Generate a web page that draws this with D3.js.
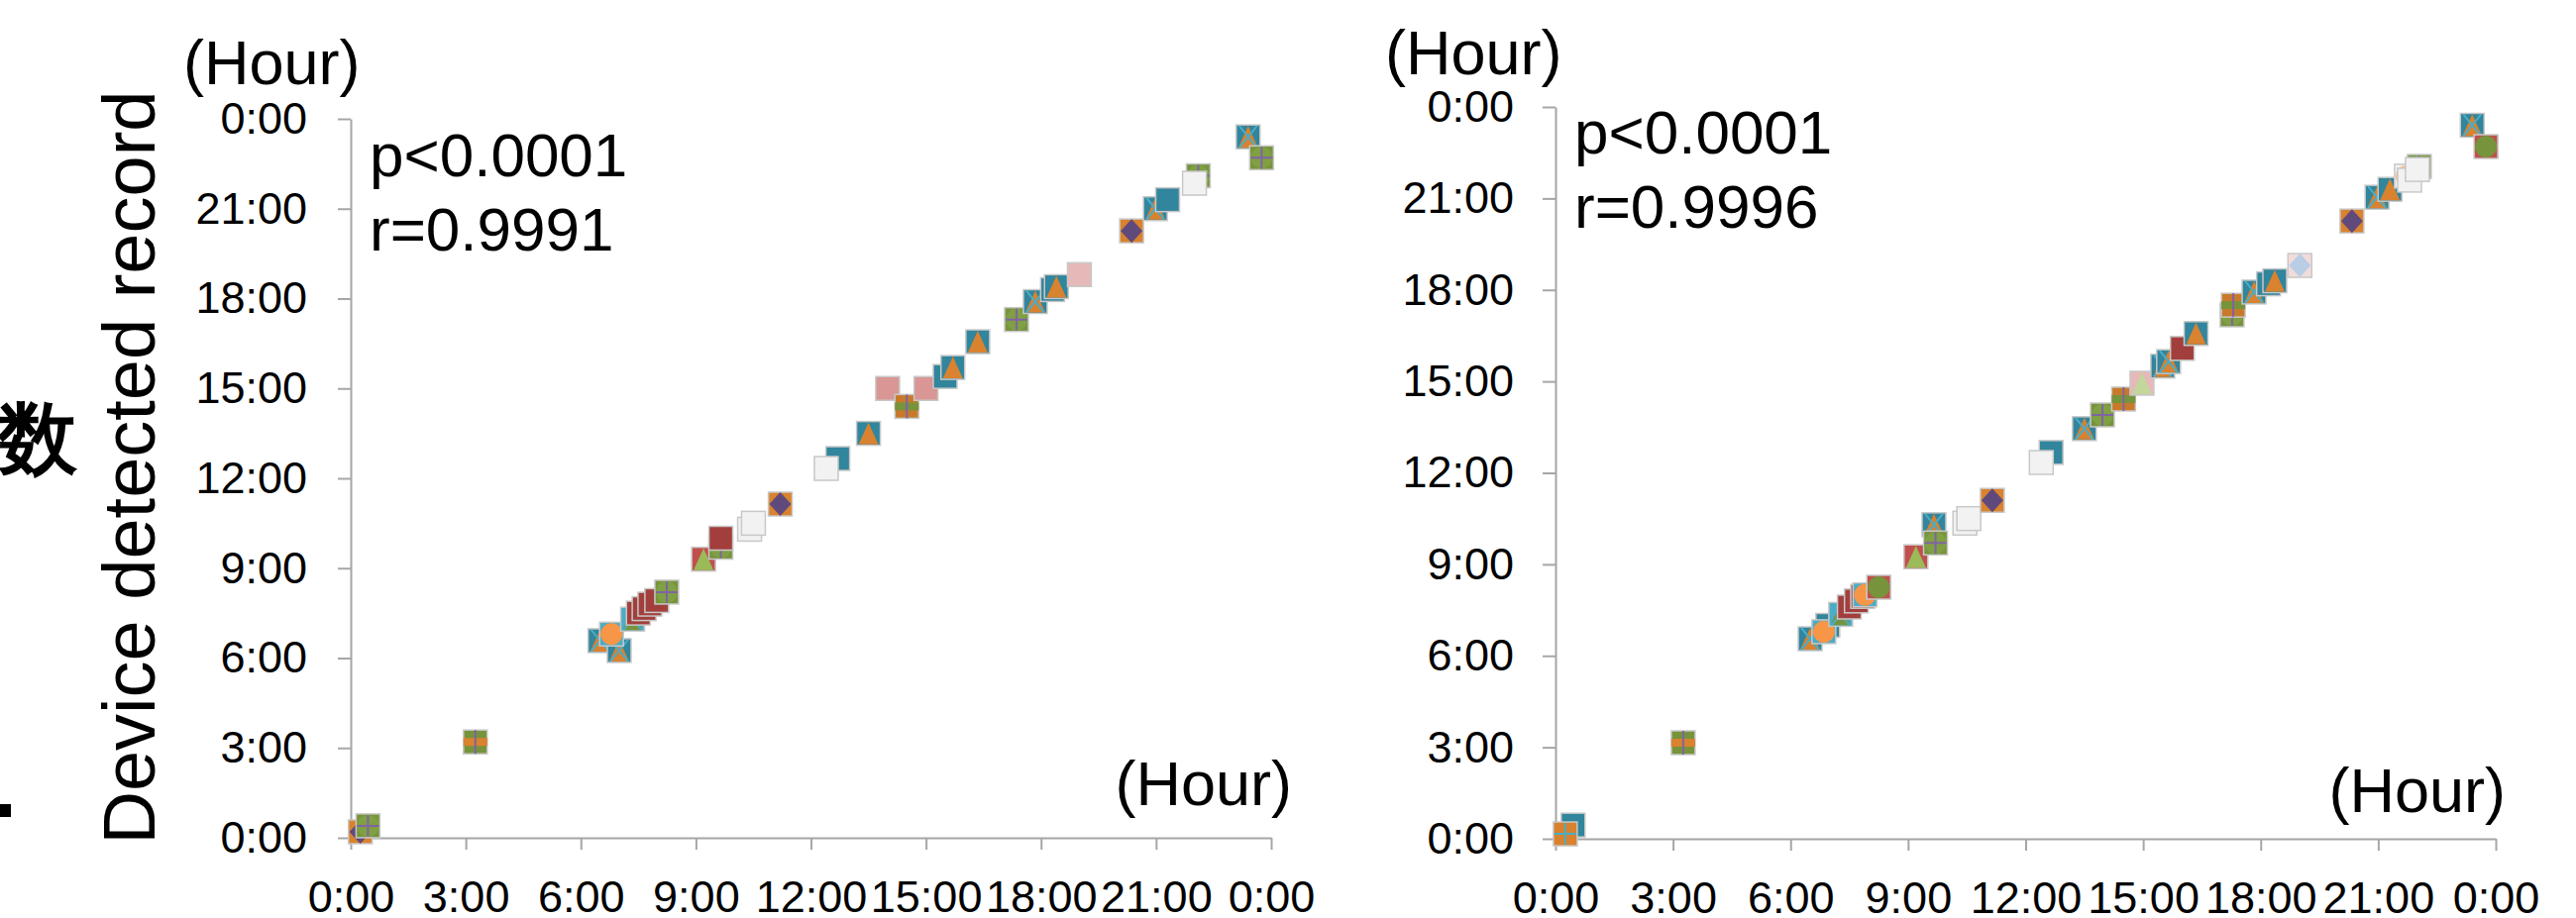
<!DOCTYPE html>
<html>
<head>
<meta charset="utf-8">
<script src="https://cdn.jsdelivr.net/npm/d3@7"></script>
<style>
  body { margin: 0; background: #fff; }
  text { font-family: "Liberation Sans", Arial, sans-serif; fill: #000; }
</style>
</head>
<body>
<svg id="chart" width="2600" height="927"></svg>
<script>
// tick values are hours, labels wrap around midnight
var hourTicks = [0, 3, 6, 9, 12, 15, 18, 21, 24];
var tickLabels = ["0:00", "3:00", "6:00", "9:00", "12:00", "15:00", "18:00", "21:00", "0:00"];

// left panel (x = reference hour, y = device detected record hour)
var leftX = [0.25, 0.45, 3.25, 6.5, 7.0, 6.8, 7.35, 7.5, 7.65, 7.8, 7.98, 8.24, 9.2, 9.65, 9.65,
  10.4, 10.5, 11.2, 12.7, 12.4, 13.5, 14.0, 14.5, 15.0, 15.5, 15.7, 16.35, 17.36, 17.85, 18.3,
  18.4, 19.0, 20.36, 20.98, 21.3, 22.1, 22.0, 23.4, 23.75];
var leftY = [0.2, 0.4, 3.2, 6.58, 6.25, 6.8, 7.3, 7.5, 7.65, 7.8, 7.92, 8.2, 9.3, 9.7, 10.0,
  10.3, 10.5, 11.14, 12.66, 12.33, 13.5, 15.0, 14.4, 15.0, 15.4, 15.7, 16.56, 17.3, 17.9, 18.3,
  18.4, 18.8, 20.26, 21.0, 21.3, 22.1, 21.85, 23.4, 22.7];
var leftKind = ["purpleDiamond", "greenPlus", "bandGreen", "tealX", "tealX", "orangeCircle", "greenX",
  "red", "red", "red", "red", "greenPlus", "redTri", "greenPlus", "red",
  "white", "white", "purpleDiamond", "teal", "white", "tealTri", "pink", "bandOrange", "pink",
  "teal", "tealTri", "tealTri", "greenPlus", "tealX", "teal",
  "tealTri", "lightPink", "purpleDiamond", "tealX", "teal", "greenPlus", "white", "tealX", "greenPlus"];
var leftStats = ["p<0.0001", "r=0.9991"];

// right panel
var rightX = [0.45, 0.25, 3.26, 6.5, 6.95, 6.85, 7.28, 7.5, 7.68, 7.84, 7.9, 8.25, 9.2, 9.66, 9.7,
  10.45, 10.55, 11.15, 12.65, 12.4, 13.5, 13.96, 14.5, 14.97, 15.5, 15.65, 16.0, 16.35, 17.27,
  17.3, 17.83, 18.2, 18.36, 19.0, 20.33, 20.97, 21.3, 21.72, 21.8, 22.05, 22.0, 23.4, 23.75];
var rightY = [0.45, 0.16, 3.15, 6.56, 7.0, 6.79, 7.36, 7.6, 7.8, 7.95, 8.0, 8.25, 9.25, 10.3, 9.7,
  10.35, 10.5, 11.1, 12.67, 12.34, 13.45, 13.9, 14.42, 14.94, 15.5, 15.65, 16.08, 16.57, 17.18,
  17.5, 17.93, 18.2, 18.3, 18.8, 20.26, 21.04, 21.3, 21.73, 21.6, 22.05, 21.95, 23.4, 22.7];
var rightKind = ["teal", "orangePlus", "bandGreen", "tealX", "teal", "orangeCircle", "greenX",
  "red", "red", "red", "orangeCircle", "greenCircle", "redTri", "tealX", "greenPlus",
  "white", "white", "purpleDiamond", "teal", "white", "tealX", "greenPlus", "bandOrange", "pinkTri",
  "tealX", "tealX", "red", "tealTri", "greenPlus",
  "bandOrange", "tealX", "teal", "tealTri", "blueDiamond", "purpleDiamond", "tealX", "tealTri",
  "peachCircle", "white", "greenPlus", "white", "tealX", "greenCircle"];
var rightStats = ["p<0.0001", "r=0.9996"];

var looks = {
  teal:          { bg: "#31859C" },
  tealTri:       { bg: "#31859C", fg: "#D9822F", shape: "tri" },
  tealX:         { bg: "#31859C", fg: "#D9822F", shape: "trix" },
  greenX:        { bg: "#4BACC6", fg: "#77933C", shape: "trix" },
  greenPlus:     { bg: "#77933C", fg: "#7FA043", shape: "plus" },
  greenCircle:   { bg: "#C0504D", fg: "#77933C", shape: "circle" },
  bandGreen:     { bg: "#77933C", fg: "#D9822F", shape: "band" },
  bandOrange:    { bg: "#C87A2A", fg: "#77933C", shape: "band" },
  red:           { bg: "#A23F3C" },
  redTri:        { bg: "#C0504D", fg: "#9BBB59", shape: "tri" },
  pink:          { bg: "#D99694" },
  pinkTri:       { bg: "#E6B9B8", fg: "#C3D69B", shape: "tri" },
  lightPink:     { bg: "#E6B9B8" },
  white:         { bg: "#F2F2F2" },
  purpleDiamond: { bg: "#D9822F", fg: "#604A7B", shape: "diamond" },
  blueDiamond:   { bg: "#F2DCDB", fg: "#B9CDE5", shape: "diamond" },
  orangeCircle:  { bg: "#4BACC6", fg: "#F79646", shape: "circle" },
  orangePlus:    { bg: "#D9822F", fg: "#D9822F", shape: "plus" },
  peachCircle:   { bg: "#F2F2F2", fg: "#FAC090", shape: "circle" }
};

var svg = d3.select("#chart");
var ms = 12; // half marker size

function drawMarker(g, kind) {
  var lk = looks[kind];
  g.append("rect").attr("x", -ms).attr("y", -ms).attr("width", 2 * ms).attr("height", 2 * ms)
    .attr("fill", lk.bg).attr("stroke", "#c8c8c8").attr("stroke-width", 1.5);
  if (lk.shape == "tri" || lk.shape == "trix") {
    g.append("path").attr("d", "M0," + (-ms + 1) + "L" + (-ms + 2) + "," + (ms - 1) + "L" + (ms - 2) + "," + (ms - 1) + "Z")
      .attr("fill", lk.fg);
  }
  if (lk.shape == "trix") {
    g.append("path").attr("d", "M-9,-11L9,11M9,-11L-9,11").attr("stroke", "#4BACC6").attr("stroke-width", 2);
  }
  if (lk.shape == "plus") {
    g.append("circle").attr("r", ms - 1).attr("fill", lk.fg);
    g.append("path").attr("d", "M0,-11V11M-11,0H11").attr("stroke", kind == "orangePlus" ? "#4BACC6" : "#8064A2").attr("stroke-width", 2);
  }
  if (lk.shape == "circle") {
    g.append("circle").attr("r", ms - 1).attr("fill", lk.fg);
  }
  if (lk.shape == "band") {
    g.append("rect").attr("x", -ms).attr("y", -4).attr("width", 2 * ms).attr("height", 8).attr("fill", lk.fg);
    g.append("path").attr("d", "M0,-12V12").attr("stroke", "#8064A2").attr("stroke-width", 2);
  }
  if (lk.shape == "diamond") {
    g.append("path").attr("d", "M0,-12L11,0L0,12L-11,0Z").attr("fill", lk.fg);
  }
}

function panel(box, xs, ys, kinds, stats) {
  var x = d3.scaleLinear().domain([0, 24]).range([box.left, box.right]);
  var y = d3.scaleLinear().domain([0, 24]).range([box.bottom, box.top]);
  var fmt = function (d, i) { return tickLabels[i]; };

  var ga = svg.append("g").attr("transform", "translate(" + box.left + ",0)")
    .call(d3.axisLeft(y).tickValues(hourTicks).tickFormat(fmt).tickSize(13).tickSizeOuter(0).tickPadding(box.padY));
  var gb = svg.append("g").attr("transform", "translate(0," + box.bottom + ")")
    .call(d3.axisBottom(x).tickValues(hourTicks).tickFormat(fmt).tickSize(12).tickSizeOuter(0).tickPadding(31));
  [ga, gb].forEach(function (g) {
    g.select(".domain").attr("stroke", "#a6a6a6").attr("stroke-width", 2);
    g.selectAll(".tick line").attr("stroke", "#a6a6a6").attr("stroke-width", 2);
    g.selectAll(".tick text").attr("font-size", 45).attr("font-family", "Liberation Sans, Arial, sans-serif").attr("fill", "#000");
  });

  var pts = xs.map(function (v, i) { return { x: v, y: ys[i], k: kinds[i] }; });
  svg.append("g").selectAll("g").data(pts).join("g")
    .attr("transform", function (d) { return "translate(" + x(d.x) + "," + y(d.y) + ")"; })
    .each(function (d) { drawMarker(d3.select(this), d.k); });

  svg.append("text").attr("x", box.hourX).attr("y", box.hourY).attr("font-size", 63).text("(Hour)");
  svg.append("text").attr("x", box.right + box.hourEnd).attr("y", box.bottom - box.hourBase)
    .attr("text-anchor", "end").attr("font-size", 63).text("(Hour)");
  stats.forEach(function (s, i) {
    svg.append("text").attr("x", box.left + 19).attr("y", box.statY + i * 75).attr("font-size", 62).text(s);
  });
}

panel({ left: 354, right: 1283, top: 120, bottom: 846, padY: 31, hourX: 185, hourY: 85, hourEnd: 21, hourBase: 33, statY: 178 },
  leftX, leftY, leftKind, leftStats);
panel({ left: 1570, right: 2519, top: 108, bottom: 847, padY: 29, hourX: 1398, hourY: 75, hourEnd: 10, hourBase: 27, statY: 155 },
  rightX, rightY, rightKind, rightStats);

// y title of the left panel
svg.append("text").attr("transform", "translate(156,472) rotate(-90)")
  .attr("text-anchor", "middle").attr("font-size", 74).text("Device detected record");

// clipped leftovers at the left edge
svg.append("text").attr("x", -2).attr("y", 470).attr("font-size", 80).attr("font-weight", "bold")
  .attr("font-family", "Noto Sans CJK SC").text("数");
svg.append("rect").attr("x", 0).attr("y", 812).attr("width", 11).attr("height", 13).attr("fill", "#000");
</script>
</body>
</html>
